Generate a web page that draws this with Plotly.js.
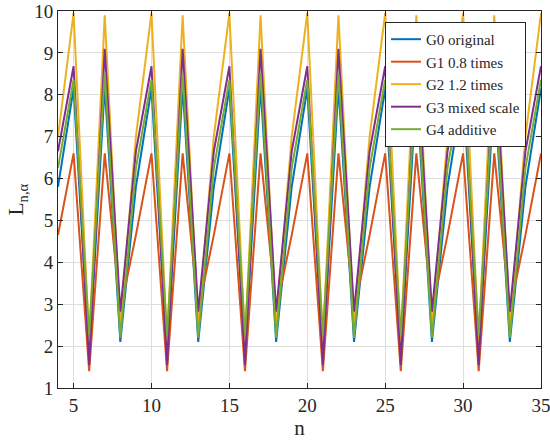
<!DOCTYPE html>
<html>
<head>
<meta charset="utf-8">
<script src="https://cdn.plot.ly/plotly-3.0.1.min.js"></script>
<style>html,body{margin:0;padding:0;background:#fff;}#chart{width:550px;height:441px;}</style>
</head>
<body>
<div id="chart"></div>
<script>
// n values
const n = [];
for (let i = 4; i <= 35; i++) n.push(i);

// values per period phase
const seriesNames = ["G0 original", "G1 0.8 times", "G2 1.2 times", "G3 mixed scale", "G4 additive"];
const seriesColors = ["#0072BD", "#D95319", "#EDB120", "#7E2F8E", "#77AC30"];
// phase order: n≡4, n≡0, n≡1, n≡2, n≡3 (mod 5)
const G0 = [5.8, 8.15, 1.75, 8.2, 2.1];
const G1 = [4.65, 6.6, 1.4, 6.6, 2.85];
const G2 = [7.0, 9.95, 2.1, 9.9, 2.5];
const G3 = [6.65, 8.68, 1.55, 9.1, 2.82];
const G4 = [6.25, 8.36, 2.27, 8.52, 2.2];
const groups = [G0, G1, G2, G3, G4];

function expand(p) {
  return n.map(k => p[(k + 1) % 5]);
}

const traces = groups.map((g, i) => ({
  x: n, y: expand(g), type: 'scatter', mode: 'lines',
  name: seriesNames[i],
  line: {color: seriesColors[i], width: 2}
}));

const FAM = 'Liberation Serif';
const C = '#262626';
const layout = {
  width: 550, height: 441,
  margin: {l: 58, r: 9, t: 11, b: 53},
  paper_bgcolor: '#fff', plot_bgcolor: '#fff',
  font: {family: FAM, size: 19, color: C},
  showlegend: true,
  legend: {
    x: 0.969, y: 0.971, xanchor: 'right', yanchor: 'top',
    bgcolor: '#fff', bordercolor: C, borderwidth: 1,
    font: {family: FAM, size: 15, color: C},
    tracegroupgap: 0
  },
  xaxis: {
    range: [4, 35], tickvals: [5, 10, 15, 20, 25, 30, 35],
    ticklabeloverflow: 'allow',
    showgrid: true, gridcolor: '#dedede', gridwidth: 1,
    showline: true, linecolor: C, linewidth: 1, mirror: 'ticks',
    ticks: 'inside', ticklen: 5, tickcolor: C,
    zeroline: false,
    tickfont: {family: FAM, size: 19, color: C},
    title: {text: 'n', font: {family: FAM, size: 21, color: C}, standoff: 0}
  },
  yaxis: {
    range: [1, 10], tickvals: [1, 2, 3, 4, 5, 6, 7, 8, 9, 10],
    showgrid: true, gridcolor: '#dedede', gridwidth: 1,
    showline: true, linecolor: C, linewidth: 1, mirror: 'ticks',
    ticks: 'inside', ticklen: 5, tickcolor: C,
    zeroline: false,
    tickfont: {family: FAM, size: 19, color: C},
    title: {text: 'L<sub>n,α</sub>', font: {family: FAM, size: 21, color: C}, standoff: 4}
  }
};

Plotly.newPlot('chart', traces, layout, {displayModeBar: false, staticPlot: true});
</script>
</body>
</html>
